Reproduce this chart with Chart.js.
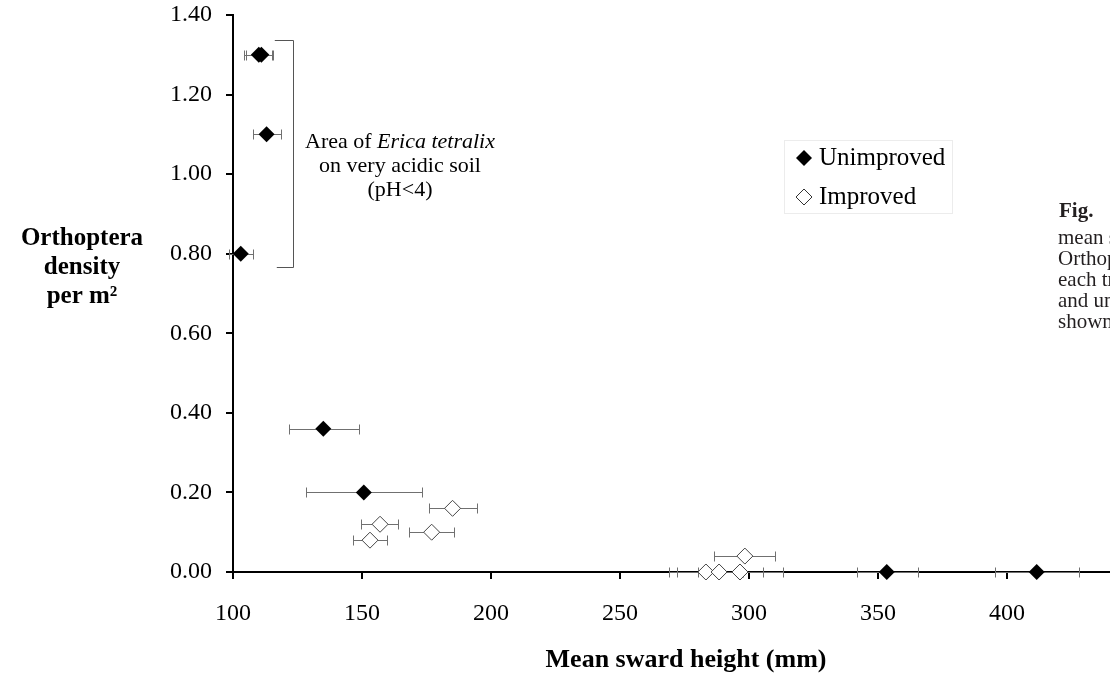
<!DOCTYPE html>
<html>
<head>
<meta charset="utf-8">
<script src="https://cdn.jsdelivr.net/npm/chart.js@4"></script>
<style>
  html, body { margin: 0; padding: 0; background: #fff; overflow: hidden; }
  #wrap { width: 1110px; height: 678px; overflow: hidden; }
</style>
</head>
<body>
<div id="wrap"><canvas id="chart" width="1160" height="678"></canvas></div>
<script>
// Unimproved sites (filled diamonds)
const unimprovedX = [110, 111, 113, 103, 135, 150.7, 353.4, 411.5];
const unimprovedY = [1.30, 1.30, 1.10, 0.80, 0.36, 0.20, 0.00, 0.00];
const unimprovedLow = [104.4, 105, 107.9, 98.5, 121.8, 128.2, 342, 395.3];
const unimprovedHigh = [115, 115.4, 118.5, 107.6, 148.8, 173.3, 365.4, 428];

// Improved sites (open diamonds)
const improvedX = [185.1, 157, 177, 153.1, 298.4, 283.3, 288.4, 296.5];
const improvedY = [0.16, 0.12, 0.10, 0.08, 0.04, 0.00, 0.00, 0.00];
const improvedLow = [175.8, 149.5, 168.2, 146.4, 286.4, 269, 272, 280.4];
const improvedHigh = [194.4, 163.8, 185.5, 159.6, 310, 297.6, 305.6, 313];

const xTicks = [100, 150, 200, 250, 300, 350, 400, 450];
const yTicks = [0, 0.2, 0.4, 0.6, 0.8, 1.0, 1.2, 1.4];

// bracket marking the Erica tetralix group (data units)
const bracketX = 123.4;
const bracketArm = 116.2;
const bracketTop = 1.337;
const bracketBottom = 0.767;

const serif = '"Liberation Serif", "Times New Roman", serif';

function toPoints(xs, ys) {
    return xs.map(function (x, i) { return { x: x, y: ys[i] }; });
}

// horizontal error bars, drawn under the markers
const errorBars = {
    id: 'errorBars',
    beforeDatasetsDraw: function (chart) {
        const ctx = chart.ctx;
        const xs = chart.scales.x, ys = chart.scales.y;
        const sets = [
            [unimprovedY, unimprovedLow, unimprovedHigh],
            [improvedY, improvedLow, improvedHigh]
        ];
        ctx.save();
        ctx.strokeStyle = '#707070';
        ctx.lineWidth = 1;
        sets.forEach(function (s) {
            s[0].forEach(function (yv, i) {
                const y = Math.round(ys.getPixelForValue(yv)) + 0.5;
                const x1 = Math.round(xs.getPixelForValue(s[1][i])) + 0.5;
                const x2 = Math.round(xs.getPixelForValue(s[2][i])) + 0.5;
                ctx.beginPath();
                ctx.moveTo(x1, y); ctx.lineTo(x2, y);
                ctx.moveTo(x1, y - 5); ctx.lineTo(x1, y + 5);
                ctx.moveTo(x2, y - 5); ctx.lineTo(x2, y + 5);
                ctx.stroke();
            });
        });
        ctx.restore();
    }
};

// titles, annotation, legend and caption
const decorations = {
    id: 'decorations',
    afterDraw: function (chart) {
        const ctx = chart.ctx;
        const xs = chart.scales.x, ys = chart.scales.y;
        ctx.save();
        ctx.fillStyle = '#000';
        ctx.textBaseline = 'middle';

        // axis titles
        ctx.textAlign = 'center';
        ctx.font = 'bold 25px ' + serif;
        ctx.fillText('Orthoptera', 82, 239);
        ctx.fillText('density', 82, 268);
        ctx.fillText('per m\u00B2', 82, 297);
        ctx.font = 'bold 26px ' + serif;
        ctx.fillText('Mean sward height (mm)', 686, 660);

        // bracket
        const bx = Math.round(xs.getPixelForValue(bracketX)) + 0.5;
        const ba = xs.getPixelForValue(bracketArm);
        const bt = Math.round(ys.getPixelForValue(bracketTop)) + 0.5;
        const bb = Math.round(ys.getPixelForValue(bracketBottom)) + 0.5;
        ctx.strokeStyle = '#555';
        ctx.lineWidth = 1;
        ctx.beginPath();
        ctx.moveTo(ba, bt); ctx.lineTo(bx, bt); ctx.lineTo(bx, bb); ctx.lineTo(ba + 2, bb);
        ctx.stroke();

        // annotation text
        ctx.textAlign = 'left';
        const normal = '22px ' + serif, italic = 'italic 22px ' + serif;
        ctx.font = normal;
        const w1 = ctx.measureText('Area of ').width;
        ctx.font = italic;
        const w2 = ctx.measureText('Erica tetralix').width;
        let sx = 400 - (w1 + w2) / 2;
        ctx.font = normal;
        ctx.fillText('Area of ', sx, 142);
        ctx.font = italic;
        ctx.fillText('Erica tetralix', sx + w1, 142);
        ctx.font = normal;
        ctx.textAlign = 'center';
        ctx.fillText('on very acidic soil', 400, 166);
        ctx.fillText('(pH<4)', 400, 190);

        // legend
        ctx.strokeStyle = '#ececec';
        ctx.strokeRect(784.5, 140.5, 168, 73);
        function diamond(cx, cy, r, filled) {
            ctx.beginPath();
            ctx.moveTo(cx, cy - r); ctx.lineTo(cx + r, cy);
            ctx.lineTo(cx, cy + r); ctx.lineTo(cx - r, cy);
            ctx.closePath();
            if (filled) { ctx.fillStyle = '#000'; ctx.fill(); }
            else { ctx.fillStyle = '#fff'; ctx.fill(); ctx.strokeStyle = '#333'; ctx.stroke(); }
        }
        diamond(804, 158, 8, true);
        diamond(804, 197, 8, false);
        ctx.fillStyle = '#000';
        ctx.textAlign = 'left';
        ctx.font = '25px ' + serif;
        ctx.fillText('Unimproved', 819, 158);
        ctx.fillText('Improved', 819, 197);

        // figure caption (runs off the page)
        ctx.fillStyle = '#231f20';
        ctx.font = 'bold 21px ' + serif;
        ctx.fillText('Fig.', 1059, 212);
        ctx.font = '21px ' + serif;
        ['mean sward height', 'Orthoptera density', 'each transect', 'and unimproved', 'shown'].forEach(function (t, i) {
            ctx.fillText(t, 1058, 238 + i * 21);
        });
        ctx.restore();
    }
};

new Chart(document.getElementById('chart'), {
    type: 'scatter',
    data: {
        datasets: [{
            label: 'Unimproved',
            data: toPoints(unimprovedX, unimprovedY),
            pointStyle: 'rectRot',
            pointRadius: 8,
            pointBackgroundColor: '#000',
            pointBorderColor: '#000',
            pointBorderWidth: 0,
            clip: false
        }, {
            label: 'Improved',
            data: toPoints(improvedX, improvedY),
            pointStyle: 'rectRot',
            pointRadius: 8,
            pointBackgroundColor: '#fff',
            pointBorderColor: '#444',
            pointBorderWidth: 1,
            clip: false
        }]
    },
    options: {
        responsive: false,
        animation: false,
        layout: { padding: { top: 15, right: 24, left: 0, bottom: 0 } },
        plugins: {
            legend: { display: false },
            tooltip: { enabled: false }
        },
        scales: {
            x: {
                type: 'linear',
                min: xTicks[0],
                max: xTicks[xTicks.length - 1],
                afterFit: function (s) {
                    s.height = 106;
                    s.paddingLeft = 0; s.paddingRight = 0;
                },
                afterBuildTicks: function (s) { s.ticks = xTicks.map(function (v) { return { value: v }; }); },
                border: { color: '#000', width: 2 },
                grid: { drawOnChartArea: false, drawTicks: true, tickLength: 7, color: '#000', lineWidth: 2 },
                ticks: {
                    padding: 20,
                    color: '#000',
                    font: { family: serif, size: 24 },
                    maxRotation: 0,
                    callback: function (v) { return String(v); }
                }
            },
            y: {
                type: 'linear',
                min: yTicks[0],
                max: yTicks[yTicks.length - 1],
                afterFit: function (s) {
                    s.width = 233;
                    s.paddingTop = 0; s.paddingBottom = 0;
                },
                afterBuildTicks: function (s) { s.ticks = yTicks.map(function (v) { return { value: v }; }); },
                border: { color: '#000', width: 2 },
                grid: { drawOnChartArea: false, drawTicks: true, tickLength: 7, color: '#000', lineWidth: 2 },
                ticks: {
                    padding: 14,
                    color: '#000',
                    font: { family: serif, size: 24 },
                    callback: function (v) { return Number(v).toFixed(2); }
                }
            }
        }
    },
    plugins: [errorBars, decorations]
});
</script>
</body>
</html>
